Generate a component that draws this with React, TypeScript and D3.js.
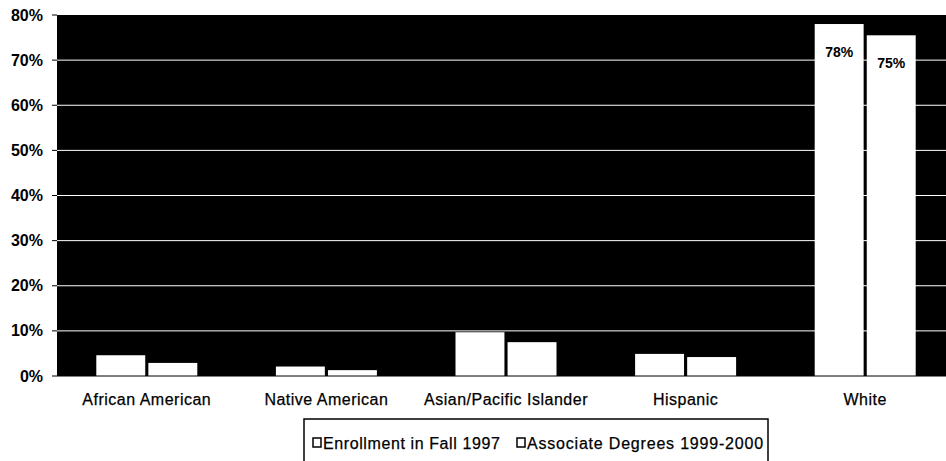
import React from "react";
import * as d3 from "d3";

const categories = ["African American", "Native American", "Asian/Pacific Islander", "Hispanic", "White"];
const seriesNames = ["Enrollment in Fall 1997", "Associate Degrees 1999-2000"];
const enrollment = [0.046, 0.021, 0.097, 0.049, 0.78];
const degrees = [0.029, 0.013, 0.075, 0.042, 0.755];
const yTicks = [0, 0.1, 0.2, 0.3, 0.4, 0.5, 0.6, 0.7, 0.8];
const labeledBars = [{ cat: "White", s: 0, text: "78%" }, { cat: "White", s: 1, text: "75%" }];

const W = 946, H = 461;
const plotL = 57, plotR = 955, plotT = 15, plotB = 376;
const FONT = "'Liberation Sans', Arial, Helvetica, sans-serif";

export default function App() {
  const x = d3.scaleBand<string>().domain(categories).range([plotL, plotR]).paddingInner(0).paddingOuter(0);
  const y = d3.scaleLinear().domain([0, 0.8]).range([plotB, plotT]);
  const series = [enrollment, degrees];
  const inner = d3.scaleBand<number>().domain([0, 1]).range([-50.5, 50.5]).paddingInner(0.06).paddingOuter(0);
  const fmt = d3.format(".0%");

  const legendItems = [
    { sq: 313, tx: 323, ls: 0.6 },
    { sq: 517, tx: 527, ls: 0.8 },
  ];

  return (
    <svg width={W} height={H} style={{ position: "absolute", left: 0, top: 0, background: "#fff" }} fontFamily={FONT}>
      <rect x={plotL} y={plotT} width={plotR - plotL} height={plotB - plotT} fill="#000" />
      {yTicks.filter((t) => t > 0 && t < 0.8).map((t) => (
        <line key={"g" + t} x1={plotL} x2={plotR} y1={y(t)} y2={y(t)} stroke="#fff" strokeWidth={1} />
      ))}
      {yTicks.map((t) => (
        <g key={"t" + t}>
          <line x1={plotL - 5} x2={plotL} y1={y(t)} y2={y(t)} stroke="#000" strokeWidth={1} />
          <text x={43} y={y(t) + 5.5} textAnchor="end" fontSize={16} fontWeight="bold" fill="#000">{fmt(t)}</text>
        </g>
      ))}
      {categories.map((c, i) => {
        const cx = (x(c) as number) + x.bandwidth() / 2;
        return (
          <g key={c}>
            {series.map((s, si) => (
              <rect key={si} x={cx + (inner(si) as number)} y={y(s[i])} width={inner.bandwidth()} height={plotB - y(s[i])} fill="#fff" />
            ))}
            <text x={cx} y={405} textAnchor="middle" fontSize={16} letterSpacing={0.5} stroke="#000" strokeWidth={0.25} fill="#000">{c}</text>
          </g>
        );
      })}
      {labeledBars.map((b) => {
        const i = categories.indexOf(b.cat);
        const cx = (x(b.cat) as number) + x.bandwidth() / 2 + (inner(b.s) as number) + inner.bandwidth() / 2;
        return (
          <text key={b.s} x={cx} y={y(series[b.s][i]) + 33} textAnchor="middle" fontSize={14} fontWeight="bold" fill="#000">{b.text}</text>
        );
      })}
      <line x1={plotL} x2={plotR} y1={plotB} y2={plotB} stroke="#000" strokeWidth={1} />
      <rect x={304} y={419} width={464} height={60} fill="#fff" stroke="#000" strokeWidth={1.5} />
      {seriesNames.map((n, i) => (
        <g key={n}>
          <rect x={legendItems[i].sq} y={438} width={8} height={9} fill="#fff" stroke="#000" strokeWidth={1.5} />
          <text x={legendItems[i].tx} y={449} fontSize={16} letterSpacing={legendItems[i].ls} stroke="#000" strokeWidth={0.25} fill="#000">{n}</text>
        </g>
      ))}
    </svg>
  );
}
